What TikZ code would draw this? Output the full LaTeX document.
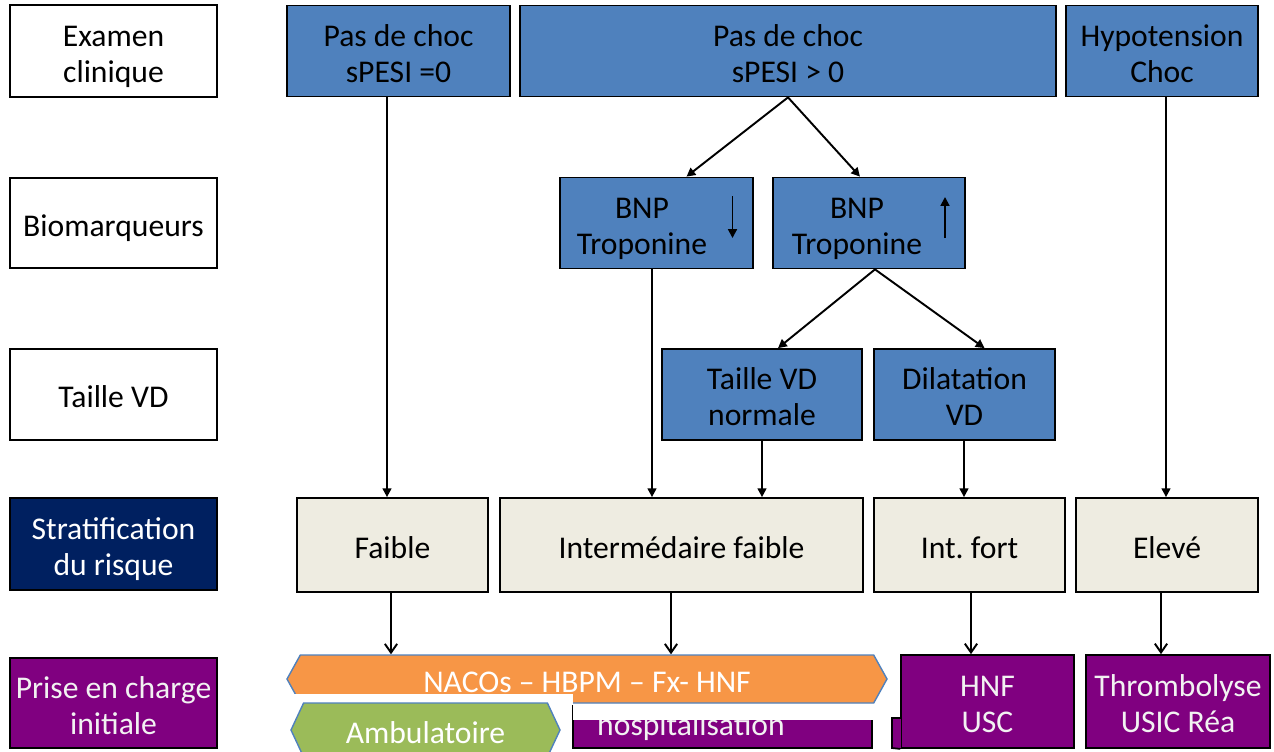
\documentclass[tikz,border=0pt]{standalone}
\usepackage{fontspec}
\setmainfont{Carlito}
\usetikzlibrary{arrows.meta,shapes.symbols}
\newlength{\px}
\setlength{\px}{0.02cm}
\newcommand{\cadre}[1]{\rule{0pt}{20pt}#1\rule[-5pt]{0pt}{5pt}}
\definecolor{bleu}{HTML}{4F81BD}
\definecolor{beige}{HTML}{EEECE1}
\definecolor{marine}{HTML}{002060}
\definecolor{violet}{HTML}{800080}
\definecolor{orangeb}{HTML}{F79646}
\definecolor{vert}{HTML}{9BBB59}
\definecolor{blanc}{HTML}{F2F2F2}

\begin{document}
\begin{tikzpicture}[x=0.02cm, y=-0.02cm,
    boite/.style={draw=black, line width=1pt, rectangle, align=center, inner sep=0pt, font=\fontsize{18}{20.5}\selectfont},
    texte/.style={align=center, inner sep=0pt, font=\fontsize{18}{20.5}\selectfont},
    etiq/.style={boite, fill=white, minimum width=207\px},
    bleue/.style={boite, fill=bleu, minimum height=91\px},
    risque/.style={boite, fill=beige, minimum height=94\px},
    soin/.style={boite, fill=violet, text=blanc, minimum height=93\px},
    fleche/.style={-{Triangle[length=5pt,width=5pt]}, line width=1.1pt},
    flechebas/.style={-{Straight Barb[length=5pt,width=7pt]}, line width=1.1pt},
    fanion/.style={signal, signal to=west and east, draw=bleu, line width=0.8pt, text=white, inner sep=0pt, font=\fontsize{18}{20.5}\selectfont}]
    \useasboundingbox (0,0) rectangle (1274,751);
    \clip (0,0) rectangle (1274,751);

    % Colonne de gauche
    \node[etiq, minimum height=92\px] (examen) at (113.5,51) {\cadre{Examen\\clinique}};
    \node[etiq, minimum height=90\px] (biomarq) at (113.5,223) {\cadre{Biomarqueurs}};
    \node[etiq, minimum height=91\px] (taillevd) at (113.5,394.5) {\cadre{Taille VD}};
    \node[etiq, fill=marine, text=white, minimum height=92\px] (strat) at (113.5,544) {\cadre{Stratification\\du risque}};
    \node[etiq, fill=violet, text=blanc, minimum height=90\px] (prise) at (113.5,703) {\cadre{Prise en charge\\initiale}};

    % Examen clinique
    \node[bleue, minimum width=223\px] (choc0) at (398.5,51) {\cadre{Pas de choc\\sPESI =0}};
    \node[bleue, minimum width=536\px] (chocpos) at (788,51) {\cadre{Pas de choc\\sPESI > 0}};
    \node[bleue, minimum width=192\px] (hypo) at (1162,51) {\cadre{Hypotension\\Choc}};

    % Biomarqueurs
    \node[bleue, minimum width=193\px] (bnpbas) at (656.5,223) {};
    \node[texte] (bnpbastxt) at (642,223) {\cadre{BNP\\Troponine}};
    \node[bleue, minimum width=192\px] (bnphaut) at (869,223) {};
    \node[texte] (bnphauttxt) at (857,223) {\cadre{BNP\\Troponine}};
    \draw[-{Triangle[length=5pt,width=5pt]}, line width=1.1pt] ([shift={(76,-27)}]bnpbas.center) -- ([shift={(76,15)}]bnpbas.center);
    \draw[-{Triangle[length=5pt,width=5pt]}, line width=1.1pt] ([shift={(76,15)}]bnphaut.center) -- ([shift={(76,-26)}]bnphaut.center);

    % Taille VD
    \node[bleue, minimum width=200\px] (vdnorm) at (762,394.5) {\cadre{Taille VD\\normale}};
    \node[bleue, minimum width=181\px] (dilat) at (964.5,394.5) {\cadre{Dilatation\\VD}};

    % Stratification du risque
    \node[risque, minimum width=191\px] (faible) at (392.5,545) {\cadre{Faible}};
    \node[risque, minimum width=363\px] (interfaible) at (681.5,545) {\cadre{Intermédaire faible}};
    \node[risque, minimum width=191\px] (intfort) at (969.5,545) {\cadre{Int.\ fort}};
    \node[risque, minimum width=182\px] (eleve) at (1167,545) {\cadre{Elevé}};

    % Prise en charge initiale
    \node[soin, minimum width=299\px, minimum height=42\px] (hosp) at (722.5,727) {};
    \node[texte, text=blanc, anchor=base] (hosptxt) at (691,735) {hospitalisation};
    \node[soin, minimum width=173\px] (hnf) at (987.5,701.5) {\cadre{HNF\\USC}};
    \fill[violet] (892,718) rectangle (901,748);
    \draw[line width=1pt] (hnf.south west) -- (892,748) -- (892,718) -- (901,718);
    \node[soin, minimum width=184\px] (thromb) at (1178,701.5) {\cadre{Thrombolyse\\USIC Réa}};
    \fill[white] (573,655) rectangle (890,720);
    \node[fanion, fill=orangeb, minimum width=600\px, minimum height=48\px, signal pointer angle=122] (nacos) at (587,679) {\cadre{NACOs – HBPM – Fx- HNF}};
    \fill[white] (280,694) rectangle (573,705);
    \node[fanion, fill=vert, minimum width=269\px, minimum height=54\px, signal pointer angle=130] (ambu) at (425.5,730) {\cadre{Ambulatoire}};

    % Fleches
    \draw[fleche] (chocpos.south) -- ([xshift=0.6cm]bnpbas.north);
    \draw[fleche] (chocpos.south) -- ([xshift=-0.18cm]bnphaut.north);
    \draw[fleche] ([xshift=0.12cm]bnphaut.south) -- ([xshift=0.32cm]vdnorm.north);
    \draw[fleche] ([xshift=0.12cm]bnphaut.south) -- ([xshift=0.4cm]dilat.north);
    \draw[fleche] ([xshift=-0.23cm]choc0.south) -- ([xshift=-0.23cm]choc0.south |- faible.north);
    \draw[fleche] ([xshift=-0.09cm]bnpbas.south) -- ([xshift=-0.09cm]bnpbas.south |- interfaible.north);
    \draw[fleche] (vdnorm.south) -- (vdnorm.south |- interfaible.north);
    \draw[fleche] ([xshift=-0.01cm]dilat.south) -- ([xshift=-0.01cm]dilat.south |- intfort.north);
    \draw[fleche] ([xshift=0.08cm]hypo.south) -- ([xshift=0.08cm]hypo.south |- eleve.north);
    \draw[flechebas] ([xshift=-0.03cm]faible.south) -- ([xshift=-0.03cm]faible.south |- nacos.north);
    \draw[flechebas] ([xshift=-0.21cm]interfaible.south) -- ([xshift=-0.21cm]interfaible.south |- nacos.north);
    \draw[flechebas] ([xshift=0.03cm]intfort.south) -- ([xshift=0.03cm]intfort.south |- hnf.north);
    \draw[flechebas] ([xshift=-0.12cm]eleve.south) -- ([xshift=-0.12cm]eleve.south |- thromb.north);
\end{tikzpicture}
\end{document}
